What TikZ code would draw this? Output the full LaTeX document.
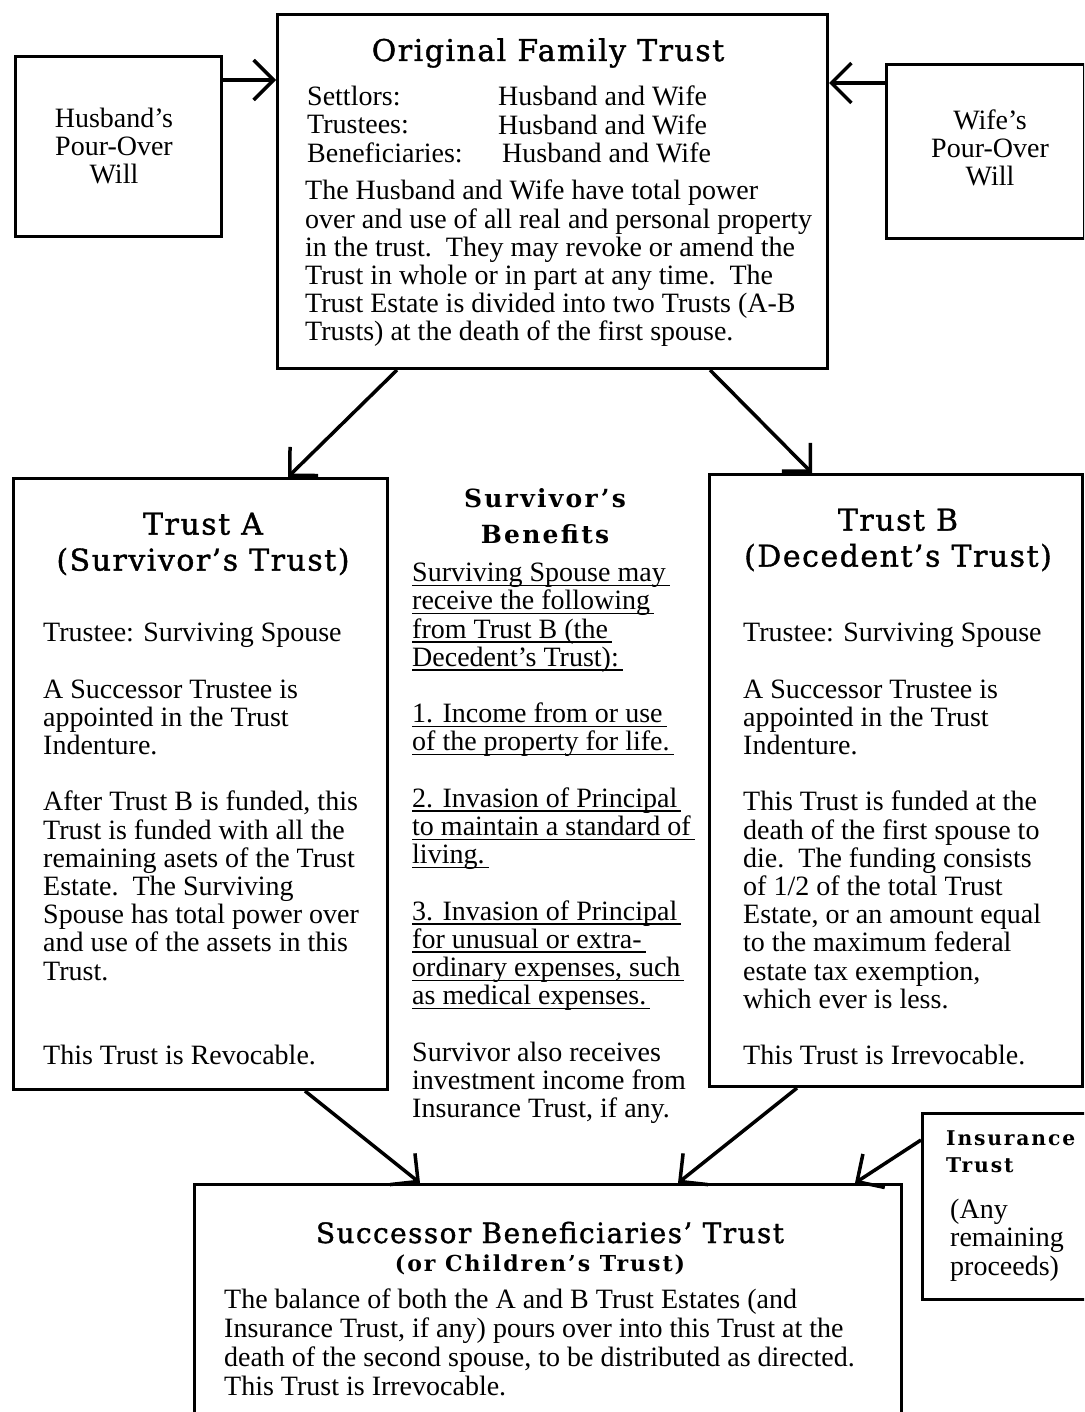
\documentclass[tikz,border=0pt]{standalone}
\usepackage{fontspec}
\setmainfont{Liberation Serif}
\newfontfamily\headfont[Ligatures=TeX,
  UprightFeatures={LetterSpace=5, FakeBold=1.2},
  BoldFeatures={LetterSpace=9}]{DejaVu Serif}
\usetikzlibrary{arrows.meta,positioning,calc}

\newsavebox\ulinebox
\newcommand\ulline[1]{\sbox\ulinebox{#1\hspace{4pt}}\rlap{\rule[-4.5pt]{\wd\ulinebox}{1.4pt}}#1}

\tikzset{
  box/.style={draw, line width=3pt, anchor=north west, inner sep=0pt},
  txt/.style={anchor=north west, inner sep=0pt, align=left, font=\fontsize{28}{28.2}\selectfont},
  ctxt/.style={inner sep=0pt, align=center, font=\fontsize{28}{28.2}\selectfont},
  head/.style={inner sep=0pt, align=center, font=\headfont\fontsize{30}{36}\selectfont},
  bhead/.style={inner sep=0pt, align=center, font=\headfont\bfseries\fontsize{25}{36}\selectfont},
  arr/.style={line width=3.5pt, -{Straight Barb[length=20pt,width=40pt]}},
}

\begin{document}
\begin{tikzpicture}[x=1pt, y=-1pt]
\useasboundingbox (0,0) rectangle (1084,1412);
\clip (0,0) rectangle (1084,1412);

% boites
\node[box, minimum width=206pt, minimum height=180pt] (husb) at (14,55) {};
\node[box, minimum width=550pt, minimum height=354pt] (orig) at (276,13) {};
\node[box, minimum width=198pt, minimum height=174pt] (wife) at (885,63) {};
\node[box, minimum width=374pt, minimum height=611pt] (trustA) at (12,477) {};
\node[box, minimum width=373pt, minimum height=612pt] (trustB) at (708,473) {};
\node[box, minimum width=175pt, minimum height=186pt] (insur) at (921,1112) {};
\node[box, minimum width=707pt, minimum height=260pt] (succ) at (193,1183) {};

% fleches
\draw[arr] (husb.east |- 0,80) -- (orig.west |- 0,80);
\draw[arr] (wife.west |- 0,83) -- (orig.east |- 0,83);
\draw[arr] (orig.south -| 397,0) -- (trustA.north -| 288,0);
\draw[arr] (orig.south -| 710,0) -- (trustB.north -| 812,0);
\draw[arr] (trustA.south -| 305,0) -- (succ.north -| 420,0);
\draw[arr] (trustB.south -| 797,0) -- (succ.north -| 678,0);
\draw[arr] (insur.west |- 0,1140) -- (succ.north -| 855,0);

% testaments
\node[ctxt] (husbtxt) at (114,146) {Husband's\\Pour-Over\\Will};
\node[ctxt] (wifetxt) at (990,148) {Wife's\\Pour-Over\\Will};

% fiducie d'origine
\node[head, anchor=base] (origtitle) at (548,61) {Original Family Trust};
\node[txt] (origlab) at (307,86) {Settlors:\\Trustees:\\Beneficiaries:};
\node[txt] (origval) at (498,86) {Husband and Wife\\Husband and Wife\\\hspace{4pt}Husband and Wife};
\node[txt] (origdesc) at (305,180) {The Husband and Wife have total power\\
over and use of all real and personal property\\
in the trust.\ \ They may revoke or amend the\\
Trust in whole or in part at any time.\ \ The\\
Trust Estate is divided into two Trusts (A-B\\
Trusts) at the death of the first spouse.};

% Trust A
\node[head] (Atitle) at (203,544) {Trust A\\(Survivor's Trust)};
\node[txt] (Atxt) at (43,623) {Trustee: Surviving Spouse\\[28.2pt]
A Successor Trustee is\\
appointed in the Trust\\
Indenture.\\[28.2pt]
After Trust B is funded, this\\
Trust is funded with all the\\
remaining asets of the Trust\\
Estate.\ \ The Surviving\\
Spouse has total power over\\
and use of the assets in this\\
Trust.\\[56.4pt]
This Trust is Revocable.};

% Trust B
\node[head] (Btitle) at (898,540) {Trust B\\(Decedent's Trust)};
\node[txt] (Btxt) at (743,623) {Trustee: Surviving Spouse\\[28.2pt]
A Successor Trustee is\\
appointed in the Trust\\
Indenture.\\[28.2pt]
This Trust is funded at the\\
death of the first spouse to\\
die.\ \ The funding consists\\
of 1/2 of the total Trust\\
Estate, or an amount equal\\
to the maximum federal\\
estate tax exemption,\\
which ever is less.\\[28.2pt]
This Trust is Irrevocable.};

% avantages du survivant
\node[bhead] (survhead) at (545,516) {Survivor's\\Benefits};
\node[txt] (survtxt) at (412,563) {\ulline{Surviving Spouse may}\\
\ulline{receive the following}\\
\ulline{from Trust B (the}\\
\ulline{Decedent's Trust):}\\[28.2pt]
\ulline{1. Income from or use}\\
\ulline{of the property for life.}\\[28.2pt]
\ulline{2. Invasion of Principal}\\
\ulline{to maintain a standard of}\\
\ulline{living.}\\[28.2pt]
\ulline{3. Invasion of Principal}\\
\ulline{for unusual or extra-}\\
\ulline{ordinary expenses, such}\\
\ulline{as medical expenses.}\\[28.2pt]
Survivor also receives\\
investment income from\\
Insurance Trust, if any.};

% assurance
\node[txt, font=\headfont\bfseries\fontsize{20.3}{27}\selectfont] (insurhead) at (946,1130) {Insurance\\Trust};
\node[txt] (insurtxt) at (950,1199) {(Any\\remaining\\proceeds)};

% fiducie des enfants
\node[head, anchor=base, font=\headfont\fontsize{28}{30}\selectfont] (succtitle) at (550,1243) {Successor Beneficiaries' Trust};
\node[bhead, anchor=base, font=\headfont\bfseries\fontsize{22}{24}\selectfont] (succsub) at (540,1271) {(or Children's Trust)};
\node[txt, font=\fontsize{28}{29}\selectfont] (succtxt) at (224,1289) {The balance of both the A and B Trust Estates (and\\
Insurance Trust, if any) pours over into this Trust at the\\
death of the second spouse, to be distributed as directed.\\
This Trust is Irrevocable.};

\end{tikzpicture}
\end{document}
